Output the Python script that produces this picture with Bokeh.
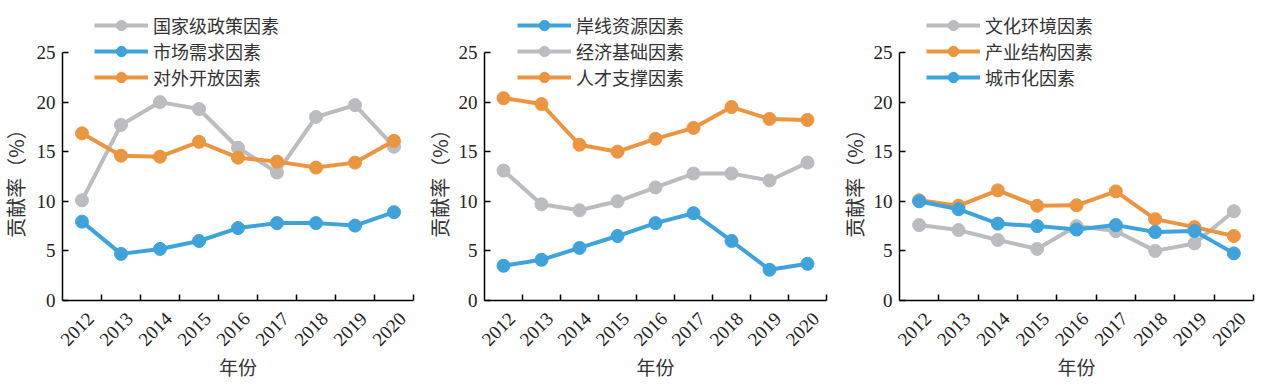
import math
from bokeh.plotting import figure
from bokeh.models import Range1d, FixedTicker, Legend, LegendItem, Label
from bokeh.layouts import row
from bokeh.embed import file_html
from bokeh.resources import INLINE

years = ["2012", "2013", "2014", "2015", "2016", "2017", "2018", "2019", "2020"]

# Panel 1
policy = [10.1, 17.7, 20.0, 19.3, 15.4, 12.9, 18.5, 19.7, 15.5]
market = [7.95, 4.7, 5.2, 6.0, 7.3, 7.8, 7.8, 7.55, 8.9]
opening = [16.85, 14.6, 14.5, 16.0, 14.4, 14.0, 13.4, 13.9, 16.1]

# Panel 2
shoreline = [3.5, 4.1, 5.3, 6.5, 7.8, 8.8, 6.0, 3.1, 3.7]
economy = [13.1, 9.7, 9.1, 10.0, 11.4, 12.8, 12.8, 12.1, 13.9]
talent = [20.4, 19.8, 15.7, 15.0, 16.3, 17.4, 19.5, 18.3, 18.2]

# Panel 3
culture = [7.6, 7.1, 6.1, 5.2, 7.5, 7.0, 5.0, 5.75, 9.0]
industry = [10.1, 9.55, 11.1, 9.55, 9.6, 11.0, 8.2, 7.4, 6.5]
urban = [10.0, 9.2, 7.75, 7.5, 7.15, 7.6, 6.9, 7.0, 4.75]

y_ticks = [0, 5, 10, 15, 20, 25]
y_max = 25
x_title = "年份"
y_title = "贡献率（%）"

GRAY = "#BBBCC0"
BLUE = "#3FA3DB"
ORANGE = "#EC9540"

CJK = "Noto Sans CJK SC"
SERIF = "Liberation Serif"
LABEL_SHIFT = 0.22  # horizontal offset of rotated year labels (style)

H = 388          # figure height (px)
AX_TOP = 52      # px from figure top to the y=25 tick
AX_BOTTOM = 300  # px from figure top to the y=0 axis


def make_panel(series, width, left, right, legend_x, ylab_x):
    n = len(years)
    xs = [i + 0.5 for i in range(n)]
    frame_w = width - left - right
    ppx = frame_w / n
    ppy = (AX_BOTTOM - AX_TOP) / y_max
    x_range = Range1d(-left / ppx, n + right / ppx)
    y_range = Range1d(-(H - AX_BOTTOM) / ppy, y_max + AX_TOP / ppy)

    p = figure(width=width, height=H, x_range=x_range, y_range=y_range,
               output_backend="svg", toolbar_location=None, min_border=0)
    p.title.visible = False
    p.outline_line_color = None
    p.xgrid.visible = False
    p.ygrid.visible = False

    xa = p.xaxis[0]
    xa.fixed_location = 0
    xa.bounds = (0, n)
    label_pos = [x + LABEL_SHIFT for x in xs]
    xa.ticker = FixedTicker(ticks=label_pos, minor_ticks=list(range(1, n + 1)))
    xa.major_label_overrides = {x: y for x, y in zip(label_pos, years)}
    xa.major_tick_in = 0
    xa.major_tick_out = 0
    xa.minor_tick_in = 6
    xa.minor_tick_out = 0
    xa.minor_tick_line_color = "black"
    xa.minor_tick_line_width = 1.5
    xa.axis_line_width = 1.5
    xa.axis_line_color = "black"
    xa.major_label_orientation = math.pi / 4
    xa.major_label_text_font = SERIF
    xa.major_label_text_font_size = "19px"
    xa.major_label_text_color = "#222222"
    xa.major_label_standoff = 15

    ya = p.yaxis[0]
    ya.fixed_location = 0
    ya.ticker = FixedTicker(ticks=y_ticks)
    ya.bounds = (0, y_max)
    ya.major_tick_in = 6
    ya.major_tick_out = 0
    ya.minor_tick_in = 0
    ya.minor_tick_out = 0
    ya.major_tick_line_width = 1.5
    ya.axis_line_width = 1.5
    ya.axis_line_color = "black"
    ya.major_label_text_font = SERIF
    ya.major_label_text_font_size = "19px"
    ya.major_label_text_color = "#222222"
    ya.major_label_standoff = 7

    p.add_layout(Label(x=n / 2, y=H - 366, x_units="data", y_units="screen",
                       text=x_title, text_align="center", text_baseline="middle",
                       text_font=CJK, text_font_size="19px", text_color="#333333"))
    p.add_layout(Label(x=ylab_x, y=12.3, x_units="screen", y_units="data",
                       text=y_title, angle=math.pi / 2,
                       text_align="center", text_baseline="middle",
                       text_font=CJK, text_font_size="20px", text_color="#333333"))

    items = []
    for label, vals, color in series:
        ln = p.line(xs, vals, line_color=color, line_width=4)
        sc = p.scatter(xs, vals, size=13, fill_color=color, line_color=color)
        items.append(LegendItem(label=label, renderers=[ln, sc]))

    legend = Legend(items=items, location=(legend_x, H - 12 - 78),
                    glyph_width=54, glyph_height=26, label_height=20,
                    spacing=0, padding=0, margin=0, label_standoff=5,
                    label_text_font=CJK, label_text_font_size="18px",
                    label_text_color="#333333",
                    background_fill_alpha=0, border_line_color=None)
    p.add_layout(legend, "center")
    return p


p1 = make_panel([("国家级政策因素", policy, GRAY),
                 ("市场需求因素", market, BLUE),
                 ("对外开放因素", opening, ORANGE)], 420, 62, 7, 94, 15)
p2 = make_panel([("岸线资源因素", shoreline, BLUE),
                 ("经济基础因素", economy, GRAY),
                 ("人才支撑因素", talent, ORANGE)], 420, 64, 14, 97, 19)
p3 = make_panel([("文化环境因素", culture, GRAY),
                 ("产业结构因素", industry, ORANGE),
                 ("城市化因素", urban, BLUE)], 428, 59, 15, 86, 14)

layout = row(p1, p2, p3)
open("out.html", "w").write(file_html(layout, INLINE))
